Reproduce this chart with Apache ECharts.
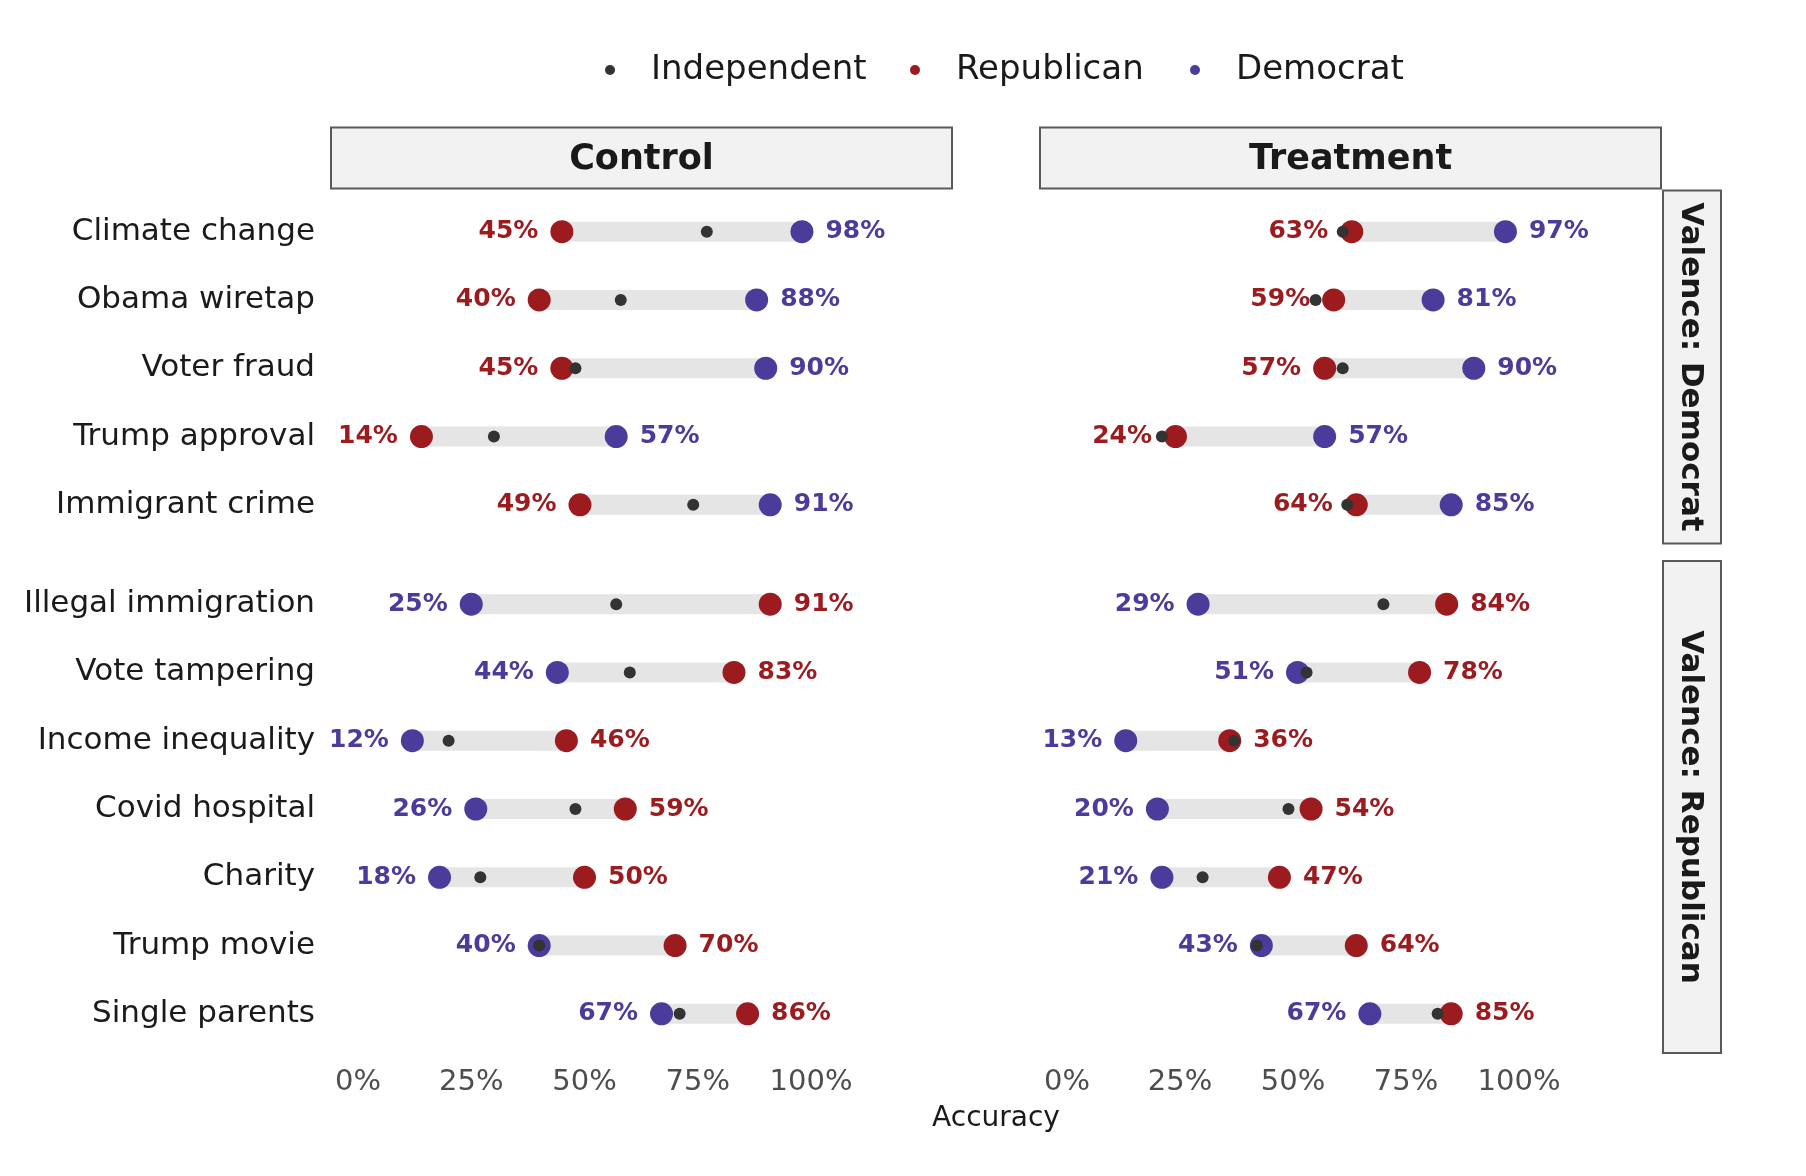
<!DOCTYPE html>
<html>
<head>
<meta charset="utf-8">
<script src="https://cdn.jsdelivr.net/npm/echarts@6/dist/echarts.min.js"></script>
<style>
  html, body { margin: 0; padding: 0; background: #fff; }
  #chart { width: 1806px; height: 1176px; }
</style>
</head>
<body>
<div id="chart"></div>
<script>
// topics, first the Democrat-valence block then the Republican-valence block
const topicsDem = ['Climate change', 'Obama wiretap', 'Voter fraud', 'Trump approval', 'Immigrant crime']
const topicsRep = ['Illegal immigration', 'Vote tampering', 'Income inequality', 'Covid hospital', 'Charity', 'Trump movie', 'Single parents']

// accuracy (%) per party, same order as topicsDem then topicsRep
const controlRep = [45, 40, 45, 14, 49, 91, 83, 46, 59, 50, 70, 86]
const controlDem = [98, 88, 90, 57, 91, 25, 44, 12, 26, 18, 40, 67]
const controlInd = [77, 58, 48, 30, 74, 57, 60, 20, 48, 27, 40, 71]
const treatRep = [63, 59, 57, 24, 64, 84, 78, 36, 54, 47, 64, 85]
const treatDem = [97, 81, 90, 57, 85, 29, 51, 13, 20, 21, 43, 67]
const treatInd = [61, 55, 61, 21, 62, 70, 53, 37, 49, 30, 42, 82]

const xTicks = [0, 25, 50, 75, 100]
const legendNames = ['Independent', 'Republican', 'Democrat']

const FONT = 'DejaVu Sans'
const RED = '#9b1b1f'
const BLUE = '#4b3c9b'
const IND = '#333333'
const BAR = '#e5e5e5'

// panel geometry
const colLeft = [358, 1067]
const colWidth = [453, 452]
const rowTop = [197.5, 570]
const rowHeight = [341.5, 478]

const grids = []
const xAxes = []
const yAxes = []
const series = []

const panels = [
  { col: 0, row: 0, cats: topicsDem, rep: controlRep.slice(0, 5), dem: controlDem.slice(0, 5), ind: controlInd.slice(0, 5) },
  { col: 1, row: 0, cats: topicsDem, rep: treatRep.slice(0, 5), dem: treatDem.slice(0, 5), ind: treatInd.slice(0, 5) },
  { col: 0, row: 1, cats: topicsRep, rep: controlRep.slice(5), dem: controlDem.slice(5), ind: controlInd.slice(5) },
  { col: 1, row: 1, cats: topicsRep, rep: treatRep.slice(5), dem: treatDem.slice(5), ind: treatInd.slice(5) }
]

const pctLabel = (color) => ({
  show: true,
  formatter: p => p.value[0] + '%',
  color: color,
  fontFamily: FONT,
  fontWeight: 'bold',
  fontSize: 25,
  distance: 12
})

panels.forEach((p, g) => {
  grids.push({
    left: colLeft[p.col],
    width: colWidth[p.col],
    top: rowTop[p.row],
    height: rowHeight[p.row],
    outerBoundsMode: 'none'
  })
  xAxes.push({
    type: 'value',
    gridIndex: g,
    min: xTicks[0],
    max: xTicks[xTicks.length - 1],
    interval: 25,
    axisLine: { show: false },
    axisTick: { show: false },
    splitLine: { show: false },
    axisLabel: {
      show: p.row === 1,
      formatter: '{value}%',
      color: '#4d4d4d',
      fontFamily: FONT,
      fontSize: 29,
      margin: 20
    }
  })
  yAxes.push({
    type: 'category',
    gridIndex: g,
    data: p.cats,
    inverse: true,
    axisLine: { show: false },
    axisTick: { show: false },
    splitLine: { show: false },
    axisLabel: {
      show: p.col === 0,
      color: '#1a1a1a',
      fontFamily: FONT,
      fontSize: 31,
      margin: 43
    }
  })

  const lo = p.rep.map((r, i) => Math.min(r, p.dem[i]))
  const span = p.rep.map((r, i) => Math.max(r, p.dem[i]) - lo[i])

  series.push({
    type: 'bar', name: 'base', xAxisIndex: g, yAxisIndex: g, stack: 'range' + g,
    data: lo, barWidth: 20, silent: true,
    itemStyle: { color: 'rgba(0,0,0,0)' }
  })
  series.push({
    type: 'bar', name: 'range', xAxisIndex: g, yAxisIndex: g, stack: 'range' + g,
    data: span, barWidth: 20, silent: true,
    itemStyle: { color: BAR }
  })
  series.push({
    type: 'scatter', name: 'Democrat', xAxisIndex: g, yAxisIndex: g,
    symbolSize: 23,
    itemStyle: { color: BLUE, opacity: 1 },
    label: pctLabel(BLUE),
    data: p.dem.map((d, i) => ({ value: [d, i], label: { position: d < p.rep[i] ? 'left' : 'right' } }))
  })
  series.push({
    type: 'scatter', name: 'Republican', xAxisIndex: g, yAxisIndex: g,
    symbolSize: 23,
    itemStyle: { color: RED, opacity: 1 },
    label: pctLabel(RED),
    data: p.rep.map((r, i) => ({ value: [r, i], label: { position: r < p.dem[i] ? 'left' : 'right' } }))
  })
  series.push({
    type: 'scatter', name: 'Independent', xAxisIndex: g, yAxisIndex: g,
    symbolSize: 12,
    itemStyle: { color: IND, opacity: 1 },
    data: p.ind.map((v, i) => [v, i])
  })
})

// one legend per entry so each key sits where the reference puts it
const legendLeft = [600, 905, 1185]
const legends = legendNames.map((name, k) => ({
  data: [name],
  icon: 'circle',
  left: legendLeft[k],
  top: 48,
  itemWidth: 72,
  itemHeight: 10,
  textStyle: { fontFamily: FONT, fontSize: 34, color: '#1a1a1a' }
}))

const stripBox = { fill: '#f2f2f2', stroke: '#5a5a5a', lineWidth: 2 }
const titleFont = 'bold 35px ' + FONT
const sideFont = 'bold 31px ' + FONT

const option = {
  backgroundColor: '#ffffff',
  animation: false,
  legend: legends,
  grid: grids,
  xAxis: xAxes,
  yAxis: yAxes,
  series: series,
  graphic: [
    { type: 'rect', shape: { x: 331, y: 127.5, width: 621, height: 61 }, style: stripBox },
    { type: 'text', x: 641.5, y: 160, style: { text: 'Control', font: titleFont, fill: '#1a1a1a', textAlign: 'center', textVerticalAlign: 'middle' } },
    { type: 'rect', shape: { x: 1040, y: 127.5, width: 621, height: 61 }, style: stripBox },
    { type: 'text', x: 1350.5, y: 160, style: { text: 'Treatment', font: titleFont, fill: '#1a1a1a', textAlign: 'center', textVerticalAlign: 'middle' } },
    { type: 'rect', shape: { x: 1663, y: 190.5, width: 58, height: 353 }, style: stripBox },
    { type: 'text', x: 1690, y: 367, rotation: -Math.PI / 2, style: { text: 'Valence: Democrat', font: sideFont, fill: '#1a1a1a', textAlign: 'center', textVerticalAlign: 'middle' } },
    { type: 'rect', shape: { x: 1663, y: 561, width: 58, height: 492 }, style: stripBox },
    { type: 'text', x: 1690, y: 807, rotation: -Math.PI / 2, style: { text: 'Valence: Republican', font: sideFont, fill: '#1a1a1a', textAlign: 'center', textVerticalAlign: 'middle' } },
    { type: 'text', x: 996, y: 1119, style: { text: 'Accuracy', font: '28px ' + FONT, fill: '#1a1a1a', textAlign: 'center', textVerticalAlign: 'middle' } }
  ]
}

const myChart = echarts.init(document.getElementById('chart'))
myChart.setOption(option)
</script>
</body>
</html>
